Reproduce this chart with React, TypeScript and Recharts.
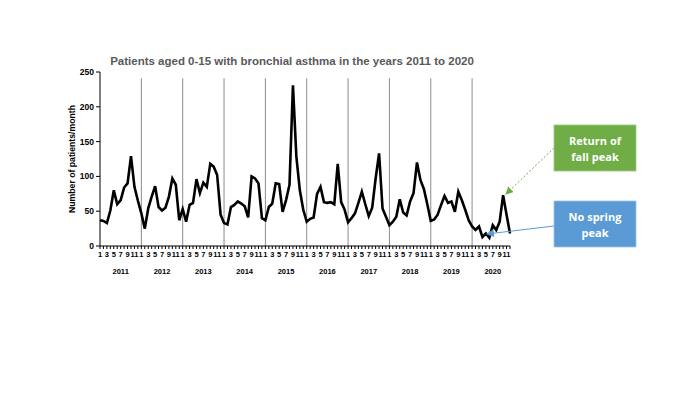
import { LineChart, Line, XAxis, YAxis, ReferenceLine } from "recharts";

const years = [2011, 2012, 2013, 2014, 2015, 2016, 2017, 2018, 2019, 2020];
const monthLabels = ["1", "", "3", "", "5", "", "7", "", "9", "", "11", ""];
const yTicks = [0, 50, 100, 150, 200, 250];

// patients per month, one row per year (Jan..Dec)
const patients = [
  [37, 36, 33, 51, 80, 60, 66, 84, 90, 129, 85, 65],
  [47, 25, 54, 71, 86, 56, 51, 55, 71, 97, 88, 37],
  [53, 35, 59, 62, 96, 76, 91, 85, 118, 114, 102, 45],
  [33, 31, 56, 59, 64, 61, 57, 41, 100, 97, 90, 40],
  [37, 56, 61, 90, 89, 49, 66, 88, 231, 128, 80, 52],
  [35, 39, 41, 75, 85, 63, 62, 63, 60, 118, 63, 52],
  [34, 40, 47, 62, 78, 60, 43, 55, 97, 133, 54, 42],
  [30, 35, 42, 67, 48, 44, 64, 76, 120, 95, 82, 60],
  [36, 38, 45, 59, 72, 62, 64, 49, 78, 66, 52, 37],
  [28, 23, 28, 13, 18, 12, 30, 23, 35, 73, 45, 18],
];

const data = years.flatMap((year, yi) =>
  patients[yi].map((v, mi) => ({ key: `${year}-${mi + 1}`, year, month: mi + 1, value: v }))
);

const font = "'Liberation Sans', Arial, sans-serif";

const MonthTick = (props: any) => {
  const { x, y, index } = props;
  const label = monthLabels[index % 12];
  if (!label) return null;
  return (
    <text x={x} y={y} dy={7} textAnchor="middle" fontSize={7.5} fontWeight={700} fontFamily={font} fill="#000">
      {label}
    </text>
  );
};

const YearTick = (props: any) => {
  const { x, y, index } = props;
  if (index % 12 !== 6) return null;
  return (
    <text x={x} y={y} dy={14} textAnchor="middle" fontSize={7.5} fontWeight={700} fontFamily={font} fill="#000">
      {years[Math.floor(index / 12)]}
    </text>
  );
};

export default function App() {
  return (
    <div style={{ position: "absolute", left: 0, top: 0, width: 700, height: 394, background: "#fff" }}>
      <LineChart
        width={700}
        height={394}
        data={data}
        margin={{ top: 72, right: 190, bottom: 114, left: 60 }}
      >
        <XAxis
          dataKey="key"
          interval={0}
          height={14}
          tickSize={3}
          tickMargin={1}
          tick={<MonthTick />}
          axisLine={{ stroke: "#000", strokeWidth: 1 }}
          tickLine={{ stroke: "#000" }}
        />
        <XAxis
          xAxisId="year"
          dataKey="key"
          interval={0}
          height={20}
          tickSize={0}
          tickMargin={0}
          axisLine={false}
          tickLine={false}
          tick={<YearTick />}
        />
        <YAxis
          domain={[0, 250]}
          ticks={yTicks}
          width={40}
          tickSize={4}
          tickMargin={2}
          interval={0}
          axisLine={{ stroke: "#000" }}
          tickLine={{ stroke: "#000" }}
          tick={{ fill: "#000", fontSize: 8.5, fontWeight: 700, fontFamily: font }}
          label={{
            value: "Number of patients/month",
            angle: -90,
            position: "insideLeft",
            offset: 12,
            style: { textAnchor: "middle", fontSize: 8.7, fontWeight: 700, fontFamily: font, fill: "#000" },
          }}
        />
        {years.slice(1).map((yr) => (
          <ReferenceLine
            key={yr}
            segment={[
              { x: `${yr}-1`, y: 0 },
              { x: `${yr}-1`, y: 241 },
            ]}
            stroke="#8c8c8c"
            strokeWidth={1}
          />
        ))}
        <Line
          type="linear"
          dataKey="value"
          stroke="#000"
          strokeWidth={2.6}
          dot={false}
          isAnimationActive={false}
        />
      </LineChart>

      <svg
        width={700}
        height={394}
        style={{ position: "absolute", left: 0, top: 0, pointerEvents: "none" }}
      >
        <defs>
          <marker id="arrGreen" markerWidth="8" markerHeight="8" refX="7" refY="4" orient="auto">
            <path d="M0,0 L8,4 L0,8 z" fill="#70AD47" />
          </marker>
          <marker id="arrBlue" markerWidth="8" markerHeight="8" refX="7" refY="4" orient="auto">
            <path d="M0,0 L8,4 L0,8 z" fill="#5B9BD5" />
          </marker>
        </defs>
        <text x={292} y={65} textAnchor="middle" fontSize={11.5} fontWeight={700} fontFamily={font} fill="#595959">
          Patients aged 0-15 with bronchial asthma in the years 2011 to 2020
        </text>

        <line x1={554} y1={148} x2={506} y2={194} stroke="#70AD47" strokeWidth={1} strokeDasharray="2 2" markerEnd="url(#arrGreen)" />
        <line x1={554} y1={226} x2={487} y2={234} stroke="#5B9BD5" strokeWidth={1} markerEnd="url(#arrBlue)" />

        <rect x={554} y={125} width={82} height={46} fill="#70AD47" stroke="#9fcb82" strokeWidth={0.8} />
        <text x={595} y={145} textAnchor="middle" fontSize={11} fontWeight={700} fontFamily="'Open Sans', sans-serif" fill="#fff">
          Return of
        </text>
        <text x={595} y={161} textAnchor="middle" fontSize={11} fontWeight={700} fontFamily="'Open Sans', sans-serif" fill="#fff">
          fall peak
        </text>

        <rect x={554} y={201} width={82} height={46} fill="#5B9BD5" stroke="#9cc3e8" strokeWidth={0.8} />
        <text x={595} y={221} textAnchor="middle" fontSize={11} fontWeight={700} fontFamily="'Open Sans', sans-serif" fill="#fff">
          No spring
        </text>
        <text x={595} y={237} textAnchor="middle" fontSize={11} fontWeight={700} fontFamily="'Open Sans', sans-serif" fill="#fff">
          peak
        </text>
      </svg>
    </div>
  );
}
